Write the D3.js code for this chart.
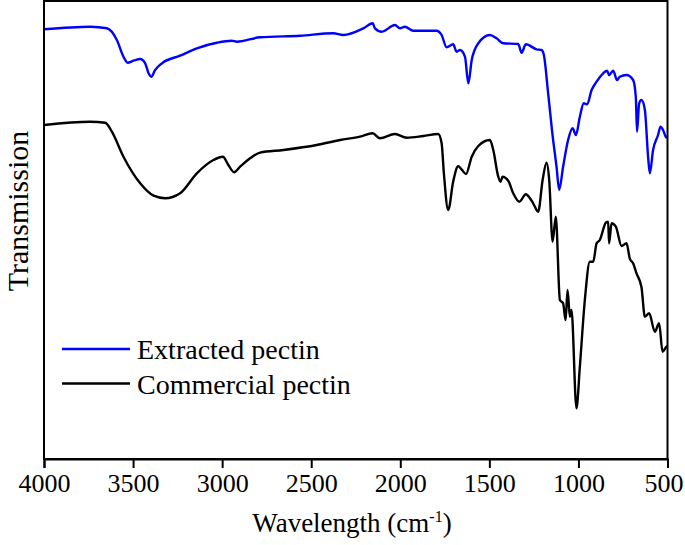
<!DOCTYPE html>
<html>
<head>
<meta charset="utf-8">
<script src="https://cdn.jsdelivr.net/npm/d3@7"></script>
<style>
  html, body { margin: 0; padding: 0; background: #fff; }
  svg { display: block; }
  text { font-family: "Liberation Serif", "Times New Roman", serif; fill: #000; }
</style>
</head>
<body>
<svg id="chart" width="685" height="545"></svg>
<script>
// Wavenumber (cm^-1) and transmission (arbitrary units)
const seriesNames = ["Extracted pectin", "Commercial pectin"];
const seriesColors = ["#0000ff", "#000000"];
const xTicks = [4000, 3500, 3000, 2500, 2000, 1500, 1000, 500];

const extractedWn = [4000, 3740, 3647, 3591, 3554, 3531, 3497, 3460, 3432, 3413, 3398, 3376, 3338, 3236, 3142, 3030, 2946, 2918, 2787, 2562, 2376, 2320, 2207, 2155, 2142, 2104, 2030, 2002, 1974, 1927, 1796, 1768, 1740, 1703, 1684, 1665, 1637, 1618, 1599, 1562, 1497, 1459, 1422, 1338, 1319, 1295, 1235, 1207, 1194, 1170, 1142, 1123, 1108, 1086, 1058, 1033, 1014, 992, 970, 951, 926, 898, 861, 839, 828, 805, 783, 768, 730, 693, 678, 671, 659, 646, 627, 609, 599, 581, 553, 539, 525, 510, 500];
const extractedT = [437.7, 440.3, 438.7, 427, 410.3, 404.3, 406.3, 408, 403.7, 393.7, 390.3, 397, 403.7, 411.3, 418.7, 424.3, 426.3, 425.3, 429.7, 431.3, 433.7, 432, 438.7, 443.7, 438.7, 435.3, 442, 438.7, 440.3, 436.3, 436.3, 432, 419.7, 422.7, 415.3, 417, 410.3, 383.7, 407, 423.7, 432, 428.7, 423.7, 423, 414.3, 422.7, 417.7, 417, 412, 373.7, 327, 300.3, 277, 300.3, 327, 338.7, 332, 350.3, 363.7, 362.7, 377, 385.3, 393.7, 396.3, 392, 396.3, 387, 390.3, 392, 387, 370.3, 335.3, 363.7, 367, 357, 310.3, 293.7, 317, 332, 340.3, 337, 330.3, 329];

const commercialWn = [4000, 3740, 3656, 3619, 3554, 3460, 3385, 3320, 3236, 3142, 3049, 2996, 2965, 2933, 2899, 2843, 2787, 2656, 2469, 2338, 2226, 2155, 2114, 2030, 1964, 1871, 1787, 1768, 1755, 1731, 1703, 1675, 1656, 1631, 1599, 1562, 1497, 1478, 1450, 1437, 1426, 1394, 1366, 1332, 1295, 1272, 1254, 1226, 1201, 1179, 1164, 1145, 1127, 1104, 1086, 1072, 1061, 1048, 1039, 1011, 992, 964, 936, 917, 898, 880, 846, 833, 828, 814, 790, 758, 730, 712, 693, 674, 646, 627, 603, 571, 547, 528, 506, 500];
const commercialT = [342, 345.3, 344.3, 335.3, 310.3, 283.7, 271.3, 268.7, 273.7, 293.7, 307, 310.3, 302, 294.7, 300.3, 308.7, 314.3, 317, 322, 327, 330.3, 333.7, 328.7, 333, 329.3, 331, 333, 323.7, 293, 257, 285.5, 300.7, 297.7, 293, 310.3, 321, 327, 317, 290.3, 285.3, 290.3, 286.3, 273.7, 265.3, 272.7, 268.7, 263.7, 255.3, 287, 304.3, 287, 225.3, 250.3, 167, 163.7, 147, 177, 150.3, 157, 58.7, 100.3, 167, 205.3, 205.3, 223.7, 227, 244.3, 245.3, 223.7, 243.7, 240.3, 221, 223.7, 208.7, 203.7, 193.7, 179.7, 150.3, 153.7, 135.3, 143.7, 115.3, 120.3, 121];

const svg = d3.select("#chart");
const mLeft = 44, mRight = 667.5, mTop = 1, mBottom = 459;

const x = d3.scaleLinear().domain([4000, 500]).range([mLeft, mRight]);
const y = d3.scaleLinear().domain([8, 466]).range([mBottom, mTop]);

const series = [
  { name: seriesNames[0], color: seriesColors[0], pts: extractedWn.map((w, i) => [w, extractedT[i]]) },
  { name: seriesNames[1], color: seriesColors[1], pts: commercialWn.map((w, i) => [w, commercialT[i]]) }
];

const line = d3.line().x(d => x(d[0])).y(d => y(d[1])).curve(d3.curveMonotoneX);

// Curves (black first, blue on top)
[series[1], series[0]].forEach(s => {
  svg.append("path")
    .datum(s.pts)
    .attr("d", line)
    .attr("fill", "none")
    .attr("stroke", s.color)
    .attr("stroke-width", 2.4)
    .attr("stroke-linejoin", "round");
});

// Frame
svg.append("rect")
  .attr("x", mLeft).attr("y", mTop)
  .attr("width", mRight - mLeft).attr("height", mBottom - mTop)
  .attr("fill", "none").attr("stroke", "#000").attr("stroke-width", 2);

// X axis
const xAxis = d3.axisBottom(x).tickValues(xTicks).tickSize(9).tickPadding(6).tickFormat(d3.format("d"));
const gx = svg.append("g").attr("transform", `translate(0,${mBottom})`).call(xAxis);
gx.select(".domain").attr("stroke-width", 2);
gx.selectAll(".tick line").attr("stroke-width", 2);
gx.selectAll(".tick text")
  .attr("font-family", "Liberation Serif, serif")
  .attr("font-size", 26).attr("fill", "#000")
  .attr("dx", d => d === 500 ? -4 : 0);

// Axis titles
const xt = svg.append("text")
  .attr("x", 352).attr("y", 532)
  .attr("text-anchor", "middle")
  .attr("font-size", 27);
xt.append("tspan").text("Wavelength (cm");
xt.append("tspan").attr("dy", -10).attr("font-size", 16).text("-1");
xt.append("tspan").attr("dy", 10).text(")");

svg.append("text")
  .attr("transform", "translate(28,211) rotate(-90)")
  .attr("text-anchor", "middle")
  .attr("font-size", 30)
  .text("Transmission");

// Legend
const legendY = [349, 383.5];
series.forEach((s, i) => {
  svg.append("line")
    .attr("x1", 62).attr("x2", 130)
    .attr("y1", legendY[i]).attr("y2", legendY[i])
    .attr("stroke", s.color).attr("stroke-width", 2.4);
  svg.append("text")
    .attr("x", 137).attr("y", legendY[i] + 10)
    .attr("font-size", 28)
    .text(s.name);
});
</script>
</body>
</html>
